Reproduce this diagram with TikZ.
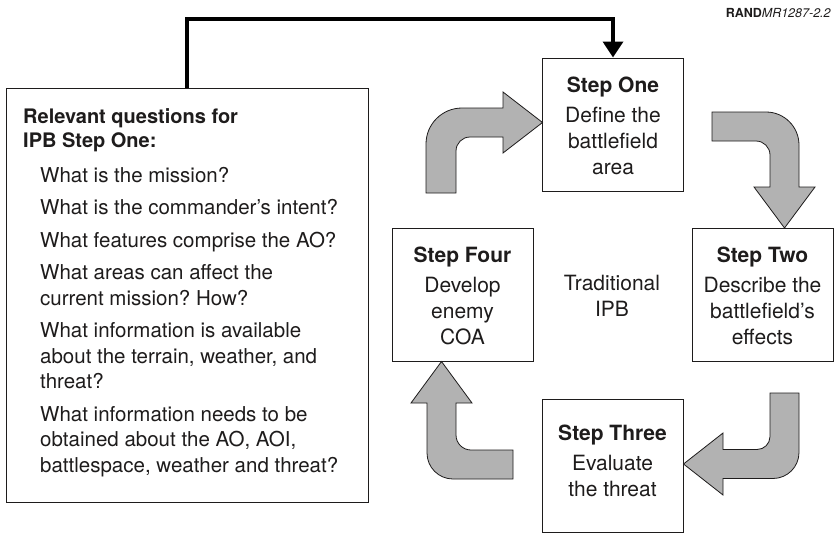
\documentclass[tikz,border=0pt]{standalone}
\usepackage{fontspec}
\setmainfont{TeX Gyre Heros}
\usetikzlibrary{arrows.meta}
\definecolor{bentgray}{RGB}{178,178,178}
\definecolor{ink}{RGB}{30,28,28}
\frenchspacing
\begin{document}
\begin{tikzpicture}[x=1pt,y=-1pt,
  box/.style={draw=ink,line width=1pt,fill=white,inner sep=0pt},
  stepbox/.style={box,minimum width=141pt,minimum height=133pt},
  steptext/.style={anchor=north,align=center,inner sep=0pt,text=ink,font=\fontsize{21}{26}\selectfont},
  headtext/.style={anchor=north west,align=left,inner sep=0pt,text=ink,font=\bfseries\fontsize{20}{24}\selectfont},
  qtext/.style={anchor=north west,align=left,inner sep=0pt,text=ink,font=\fontsize{20.5}{25.5}\selectfont},
  bent/.style={fill=bentgray,draw=ink,line width=0.8pt,line join=miter},
  conn/.style={draw=black,line width=3.5pt,line join=miter,-{Triangle[width=20pt,length=16pt]}}
]
\useasboundingbox (0,0) rectangle (838,533);

% RAND label
\node[anchor=base east,inner sep=0pt,text=ink,font=\fontsize{12.5}{14}\selectfont] (rand) at (831,17) {\textbf{RAND}\textit{MR1287-2.2}};

% left question box
\node[box,minimum width=362pt,minimum height=414pt] (qbox) at (187,295) {};
\node[headtext] (qhead) at (23,106) {\rule{0pt}{17pt}Relevant questions for\\IPB Step One:};
\node[qtext] (qlist) at (40,165) {\rule{0pt}{17pt}What is the mission?\\[7pt]
What is the commander's intent?\\[7pt]
What features comprise the AO?\\[7pt]
What areas can affect the\\current mission? How?\\[7pt]
What information is available\\about the terrain, weather, and\\threat?\\[7pt]
What information needs to be\\obtained about the AO, AOI,\\battlespace, weather and threat?};

% step boxes
\node[stepbox] (s1) at (613,124.5) {};
\node[stepbox] (s2) at (762.5,295) {};
\node[stepbox] (s3) at (612.5,466) {};
\node[stepbox] (s4) at (462.5,295) {};

\node[steptext] (s1t) at (613,75) {\rule{0pt}{17pt}\textbf{Step One}\\[4pt]Define the\\battlefield\\area};
\node[steptext] (s2t) at (762.5,245) {\rule{0pt}{17pt}\textbf{Step Two}\\[4pt]Describe the\\battlefield's\\effects};
\node[steptext] (s3t) at (612.5,423) {\rule{0pt}{17pt}\textbf{Step Three}\\[4pt]Evaluate\\the threat};
\node[steptext] (s4t) at (462.5,245) {\rule{0pt}{17pt}\textbf{Step Four}\\[4pt]Develop\\enemy\\COA};

\node[steptext] (trad) at (612,273) {\rule{0pt}{17pt}Traditional\\IPB};

% connector from question box to Step One
\coordinate (cbend) at (613,19);
\draw[conn] (qbox.north) |- (cbend) -- (s1.north);

% bent arrow: Step Four -> Step One
\draw[bent] (426,193) -- (426,144) .. controls (426,124.1) and (442.1,108) .. (462,108)
  -- (503,108) -- (503,92) -- (542.5,122.5) -- (503,153) -- (503,137) -- (470,137)
  .. controls (462.3,137) and (456,143.3) .. (456,151) -- (456,193) -- cycle;

% bent arrow: Step One -> Step Two
\draw[bent] (712,112) -- (766,112) .. controls (784.2,112) and (799,126.8) .. (799,145)
  -- (799,187) -- (815,187) -- (784.5,228) -- (754,187) -- (770,187) -- (770,155)
  .. controls (770,147.3) and (763.7,141) .. (756,141) -- (712,141) -- cycle;

% bent arrow: Step Two -> Step Three
\draw[bent] (770,393) -- (799,393) -- (799,452.5) .. controls (799,466.85) and (787.35,478.5) .. (773,478.5)
  -- (723,478.5) -- (723,495) -- (683.5,464) -- (723,433) -- (723,449.5) -- (757,449.5)
  .. controls (764.2,449.5) and (770,443.7) .. (770,436.5) -- cycle;

% bent arrow: Step Three -> Step Four
\draw[bent] (513,450) -- (513,479) -- (453,479) .. controls (438.65,479) and (427,467.35) .. (427,453)
  -- (427,403) -- (411,403) -- (441.5,361.5) -- (472,403) -- (456,403) -- (456,435)
  .. controls (456,443.3) and (462.7,450) .. (471,450) -- cycle;
\end{tikzpicture}
\end{document}
